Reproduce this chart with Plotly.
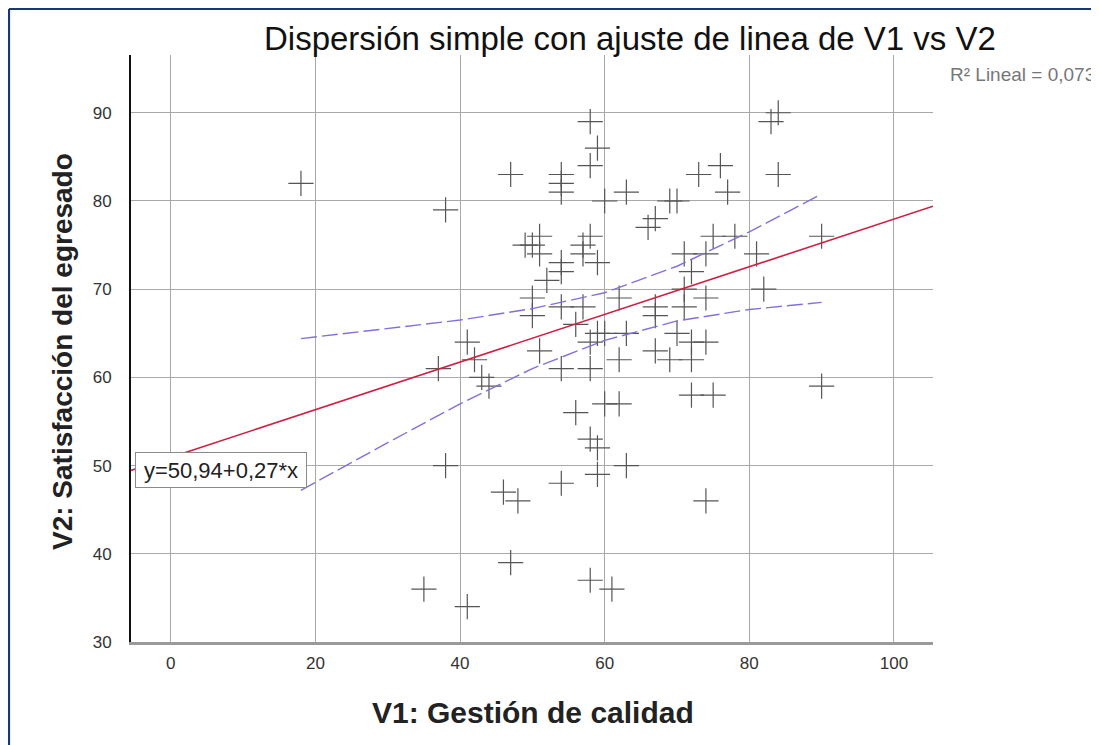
import plotly.graph_objects as go

# ---- data ----
V1 = [18, 38, 58, 59, 58, 47, 54, 54, 54, 63, 60, 69, 70, 66, 67, 73, 51, 49, 57, 58,
      84, 83, 76, 77, 84, 75, 78, 90,
      50, 51, 57, 59, 54, 54, 52, 71, 72, 50, 50, 54, 57, 56, 62, 67, 67, 71, 71,
      58, 59, 60, 63, 70, 72, 67, 69, 72, 62, 51, 54, 58, 41, 42, 37, 43, 44, 72,
      60, 62, 56,
      74, 81, 82, 74, 74, 90, 75,
      58, 59, 38, 63, 59, 54, 46, 48, 47, 58, 61, 35, 41, 74]
V2 = [82, 79, 89, 86, 84, 83, 83, 82, 81, 81, 80, 80, 80, 77, 78, 83, 76, 75, 75, 76,
      90, 89, 84, 81, 83, 76, 76, 76,
      75, 74, 74, 73, 73, 72, 71, 74, 72, 69, 67, 68, 68, 66, 69, 68, 67, 70, 68,
      64, 65, 65, 65, 65, 64, 63, 62, 62, 62, 63, 61, 61, 64, 62, 61, 60, 59, 58,
      57, 57, 56,
      74, 74, 70, 69, 64, 59, 58,
      53, 52, 50, 50, 49, 48, 47, 46, 39, 37, 36, 36, 34, 46]

FIT_X = [-5.5, 105.4]
FIT_Y = [49.45, 79.4]

CI_X = [18, 30, 40, 50, 60, 70, 80, 90]
CI_UPPER = [64.4, 65.5, 66.5, 67.8, 69.6, 72.6, 76.5, 80.8]
CI_LOWER = [47.2, 52.6, 57.0, 61.0, 64.2, 66.4, 67.7, 68.5]

X_TICKS = [0, 20, 40, 60, 80, 100]
Y_TICKS = [30, 40, 50, 60, 70, 80, 90]

TITLE = "Dispersión simple con ajuste de linea de V1 vs V2"
X_TITLE = "V1: Gestión de calidad"
Y_TITLE = "V2: Satisfacción del egresado"
R2_TEXT = "R² Lineal = 0,073"
EQ_TEXT = "y=50,94+0,27*x"

# ---- figure geometry (page has an 8px body margin) ----
OFF = 8
W, H = 1099 - OFF, 745 - OFF
L = 131 - OFF
R = W - (933 - OFF)
T = 55 - OFF
B = H - (642 - OFF)
PW, PH = W - L - R, H - T - B


def fx(ref_px):
    return (ref_px - OFF - L) / PW


def fy(ref_py):
    return (H - B - (ref_py - OFF)) / PH


FONT = "Liberation Sans, Arial, sans-serif"

fig = go.Figure()

fig.add_trace(go.Scatter(
    x=V1, y=V2, mode="markers",
    marker=dict(symbol="cross-thin", size=18, color="#555555",
                line=dict(width=1.2, color="#555555")),
    hoverinfo="x+y", showlegend=False))

for ci in (CI_UPPER, CI_LOWER):
    fig.add_trace(go.Scatter(
        x=CI_X, y=ci, mode="lines",
        line=dict(color="#8070e0", width=1.4, dash="16px,5px"),
        showlegend=False, hoverinfo="skip"))

fig.add_trace(go.Scatter(
    x=FIT_X, y=FIT_Y, mode="lines",
    line=dict(color="#d02040", width=1.6),
    showlegend=False, hoverinfo="skip"))

fig.update_layout(
    width=W, height=H,
    margin=dict(l=L, r=R, t=T, b=B, pad=0),
    paper_bgcolor="white", plot_bgcolor="white",
    font=dict(family=FONT, color="#333333"),
    showlegend=False,
    xaxis=dict(range=[-5.5, 105.4], tickvals=X_TICKS, showgrid=True,
               gridcolor="#a9a9a9", gridwidth=1.4, zeroline=False,
               showline=True, linecolor="#9a9a9a", linewidth=3,
               ticks="", tickfont=dict(size=17, color="#333333", family=FONT),
               ticklabelstandoff=4),
    yaxis=dict(range=[30, 96.55], tickvals=Y_TICKS, showgrid=True,
               gridcolor="#a9a9a9", gridwidth=1.4, zeroline=False,
               showline=True, linecolor="#111111", linewidth=2,
               ticks="", tickfont=dict(size=17, color="#333333", family=FONT),
               ticklabelstandoff=14),
)

annotations = [
    dict(text=TITLE, xref="paper", yref="paper", x=fx(630), y=fy(38),
         xanchor="center", yanchor="middle", showarrow=False,
         font=dict(size=33, color="#111111", family=FONT)),
    dict(text=f"<b>{X_TITLE}</b>", xref="paper", yref="paper", x=fx(533), y=fy(712),
         xanchor="center", yanchor="middle", showarrow=False,
         font=dict(size=30, color="#222222", family=FONT)),
    dict(text=f"<b>{Y_TITLE}</b>", xref="paper", yref="paper", x=fx(62), y=fy(352),
         xanchor="center", yanchor="middle", showarrow=False, textangle=-90,
         font=dict(size=28, color="#222222", family=FONT)),
    dict(text=R2_TEXT, xref="paper", yref="paper", x=fx(1097), y=fy(74),
         xanchor="right", yanchor="middle", showarrow=False,
         font=dict(size=19, color="#777777", family=FONT)),
    dict(text=EQ_TEXT, xref="paper", yref="paper", x=fx(221), y=fy(470),
         xanchor="center", yanchor="middle", showarrow=False,
         width=166, height=30, borderpad=2, bgcolor="white",
         bordercolor="#8a8a8a", borderwidth=1,
         font=dict(size=22, color="#222222", family=FONT)),
]
fig.update_layout(annotations=annotations)

# dark blue frame (left and top edges visible in the reference)
fig.add_shape(type="line", xref="paper", yref="paper",
              x0=fx(9), x1=fx(9), y0=fy(9), y1=fy(800),
              line=dict(color="#1c3576", width=2.2))
fig.add_shape(type="line", xref="paper", yref="paper",
              x0=fx(9), x1=fx(1120), y0=fy(9), y1=fy(9),
              line=dict(color="#1c3576", width=2.2))

fig.write_html("out.html")
